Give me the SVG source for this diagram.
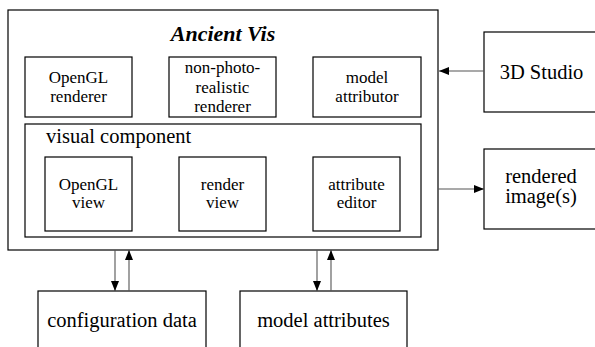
<svg xmlns="http://www.w3.org/2000/svg" width="595" height="347" viewBox="0 0 595 347">
<defs>
<marker id="ah" viewBox="0 0 10 8" refX="10" refY="4" markerWidth="10" markerHeight="8" markerUnits="userSpaceOnUse" orient="auto">
<path d="M0,0 L10,4 L0,8 Z" fill="#000"/>
</marker>
<style>
.box{fill:#fff;stroke:#000;stroke-width:1.2}
.s{font-size:17px}
.l{font-size:20.5px}
.c{stroke:#555;stroke-width:1.1;fill:none;marker-end:url(#ah)}
</style>
</defs>
<rect width="595" height="347" fill="#fff"/>
<g font-family="Liberation Serif, Times New Roman, Times, DejaVu Serif, Noto Serif, serif" text-anchor="middle" fill="#000">
<g id="ancient-vis">
<rect class="box" x="8" y="10" width="430" height="240"/>
<text x="223" y="41" font-size="22" font-weight="bold" font-style="italic">Ancient Vis</text>
</g>
<g id="opengl-renderer">
<rect class="box" x="25" y="57" width="107" height="60"/>
<text class="s" x="78.5" y="83">OpenGL</text>
<text class="s" x="78.5" y="102">renderer</text>
</g>
<g id="npr-renderer">
<rect class="box" x="169" y="57" width="107" height="60"/>
<text class="s" x="222.5" y="73">non-photo-</text>
<text class="s" x="222.5" y="93">realistic</text>
<text class="s" x="222.5" y="112">renderer</text>
</g>
<g id="model-attributor">
<rect class="box" x="313" y="57" width="108" height="60"/>
<text class="s" x="367" y="83">model</text>
<text class="s" x="367" y="102">attributor</text>
</g>
<g id="visual-component">
<rect class="box" x="25" y="124" width="396" height="113"/>
<text class="l" x="46" y="143" text-anchor="start">visual component</text>
</g>
<g id="opengl-view">
<rect class="box" x="45" y="157" width="87" height="74"/>
<text class="s" x="88.5" y="190">OpenGL</text>
<text class="s" x="88.5" y="208">view</text>
</g>
<g id="render-view">
<rect class="box" x="179" y="157" width="87" height="74"/>
<text class="s" x="222.5" y="190">render</text>
<text class="s" x="222.5" y="208">view</text>
</g>
<g id="attribute-editor">
<rect class="box" x="313" y="157" width="87" height="74"/>
<text class="s" x="356.5" y="190">attribute</text>
<text class="s" x="356.5" y="208">editor</text>
</g>
<g id="studio">
<rect class="box" x="484" y="32" width="120" height="80"/>
<text class="l" x="541.5" y="79">3D Studio</text>
</g>
<g id="rendered-images">
<rect class="box" x="484" y="149" width="120" height="80"/>
<text class="l" x="541" y="183">rendered</text>
<text class="l" x="541" y="203">image(s)</text>
</g>
<g id="configuration-data">
<rect class="box" x="38" y="291" width="168" height="70"/>
<text class="l" x="122" y="327">configuration data</text>
</g>
<g id="model-attributes">
<rect class="box" x="240" y="291" width="167" height="70"/>
<text class="l" x="323.5" y="327">model attributes</text>
</g>
</g>
<g id="connectors">
<line class="c" x1="484" y1="71" x2="439" y2="71"/>
<line class="c" x1="438" y1="189" x2="484" y2="189"/>
<line class="c" x1="115" y1="250" x2="115" y2="291"/>
<line class="c" x1="129" y1="291" x2="129" y2="250"/>
<line class="c" x1="317" y1="250" x2="317" y2="291"/>
<line class="c" x1="331" y1="291" x2="331" y2="250"/>
</g>
</svg>
